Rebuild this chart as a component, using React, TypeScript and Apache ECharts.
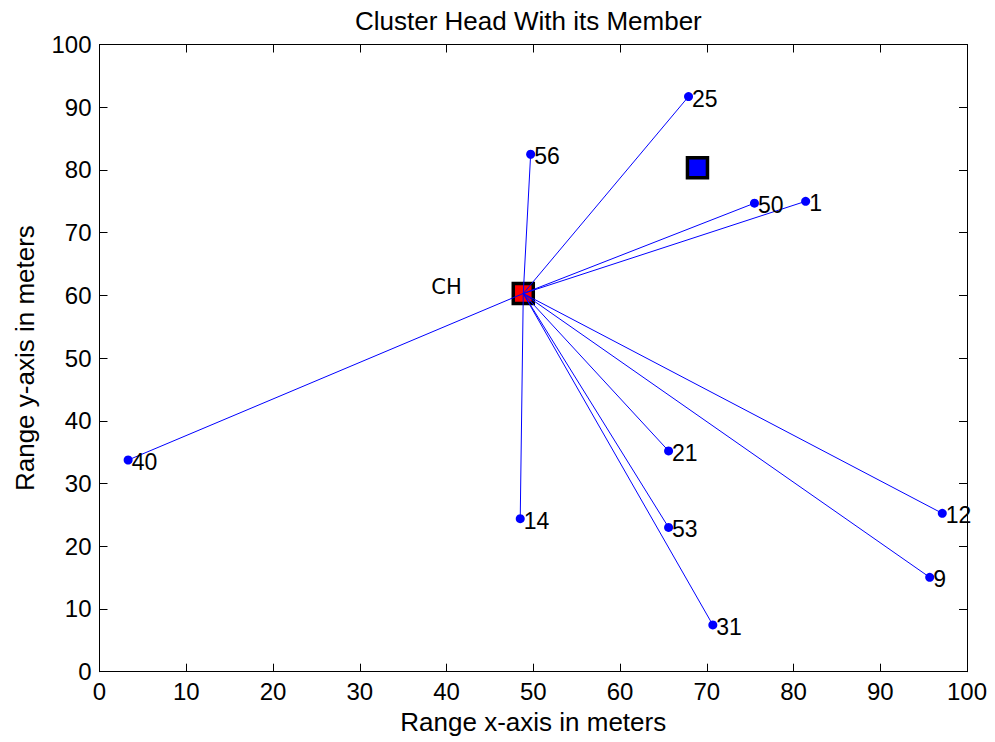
import React, { useEffect, useRef } from "react";
import * as echarts from "echarts";

const memberIds = ["25", "56", "50", "1", "40", "21", "14", "53", "31", "12", "9"];
const memberX = [67.9, 49.7, 75.5, 81.4, 3.3, 65.6, 48.5, 65.6, 70.7, 97.15, 95.7];
const memberY = [91.7, 82.5, 74.7, 75.0, 33.75, 35.2, 24.4, 23.0, 7.45, 25.25, 15.05];
const clusterHead = [48.85, 60.3];
const otherHead = [68.93, 80.36];
const chLabelPos = [40.0, 61.4];
const tickValues = [0, 10, 20, 30, 40, 50, 60, 70, 80, 90, 100];

const FONT = "'Liberation Sans', Arial, Helvetica, sans-serif";

export default function App() {
  const ref = useRef<HTMLDivElement>(null);
  useEffect(() => {
    if (!ref.current) return;
    const chart = echarts.init(ref.current, undefined, { renderer: "svg" });

    const axisCommon = {
      type: "value" as const,
      min: tickValues[0],
      max: tickValues[tickValues.length - 1],
      interval: 10,
      splitLine: { show: false },
      axisLine: { show: true, onZero: false, lineStyle: { color: "#000", width: 1 } },
      axisTick: { show: true, inside: true, length: 8, lineStyle: { color: "#000", width: 1 } },
    };

    const lineSeries = memberX.map((x, i) => ({
      type: "line" as const,
      data: [clusterHead, [x, memberY[i]]],
      symbol: "none",
      lineStyle: { color: "#0000ff", width: 1, opacity: 1 },
      silent: true,
      z: 3,
    }));

    chart.setOption({
      animation: false,
      backgroundColor: "#fff",
      title: {
        text: "Cluster Head With its Member",
        left: 350,
        top: 3,
        textStyle: { fontFamily: FONT, fontSize: 26, fontWeight: "normal", color: "#000" },
      },
      grid: { left: 99.5, right: 28, top: 44.5, bottom: 70.3, containLabel: false },
      xAxis: [
        {
          ...axisCommon,
          position: "bottom",
          name: "Range x-axis in meters",
          nameLocation: "middle",
          nameGap: 37,
          nameTextStyle: { fontFamily: FONT, fontSize: 26, color: "#000" },
          axisLabel: { fontFamily: FONT, fontSize: 24, color: "#000", margin: 8 },
        },
        {
          ...axisCommon,
          position: "top",
          axisLabel: { show: false },
        },
      ],
      yAxis: [
        {
          ...axisCommon,
          position: "left",
          name: "Range y-axis in meters",
          nameLocation: "middle",
          nameGap: 62,
          nameTextStyle: { fontFamily: FONT, fontSize: 26, color: "#000" },
          axisLabel: { fontFamily: FONT, fontSize: 24, color: "#000", margin: 8 },
        },
        {
          ...axisCommon,
          position: "right",
          axisLabel: { show: false },
        },
      ],
      series: [
        {
          type: "scatter",
          data: [clusterHead],
          symbol: "rect",
          symbolSize: 20,
          itemStyle: { color: "#ff0000", borderColor: "#000", borderWidth: 3.5, opacity: 1 },
          silent: true,
          z: 2,
        },
        {
          type: "scatter",
          data: [otherHead],
          symbol: "rect",
          symbolSize: 20,
          itemStyle: { color: "#0000ff", borderColor: "#000", borderWidth: 3.5, opacity: 1 },
          silent: true,
          z: 2,
        },
        ...lineSeries,
        {
          type: "scatter",
          data: memberX.map((x, i) => ({ value: [x, memberY[i]], name: memberIds[i] })),
          symbol: "circle",
          symbolSize: 9,
          itemStyle: { color: "#0000ff", opacity: 1 },
          label: {
            show: true,
            position: "right",
            distance: -1,
            offset: [0, 2],
            formatter: (p: any) => p.name,
            fontFamily: FONT,
            fontSize: 23,
            color: "#000",
            opacity: 1,
          },
          silent: true,
          z: 4,
        },
        {
          type: "scatter",
          data: [{ value: chLabelPos, name: "CH" }],
          symbolSize: 0,
          itemStyle: { opacity: 1 },
          label: {
            show: true,
            position: "inside",
            formatter: "CH",
            fontFamily: "'DejaVu Sans', sans-serif",
            fontSize: 21,
            color: "#000",
            opacity: 1,
          },
          silent: true,
          z: 4,
        },
      ],
    });
    return () => chart.dispose();
  }, []);
  return <div ref={ref} style={{ width: 995, height: 742, position: "absolute", left: 0, top: 0 }} />;
}
